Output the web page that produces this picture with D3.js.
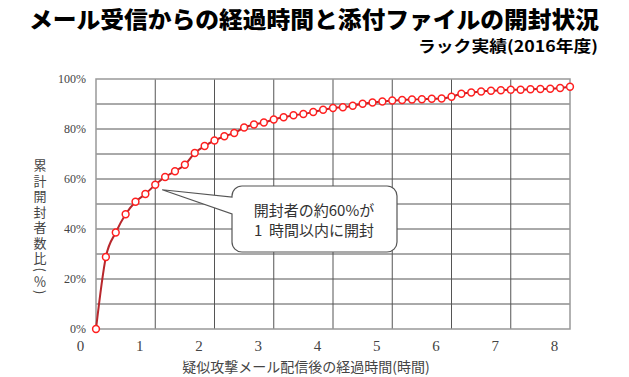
<!DOCTYPE html>
<html lang="ja">
<head>
<meta charset="UTF-8">
<title>メール受信からの経過時間と添付ファイルの開封状況</title>
<script src="https://cdnjs.cloudflare.com/ajax/libs/d3/7.8.5/d3.min.js"></script>
<style>
  body { margin: 0; background: #fff; }
  svg { display: block; }
</style>
</head>
<body>
<svg id="chart" width="629" height="377"></svg>
<script>
    // elapsed minutes after the mail was sent
    const minutes = [0, 10, 20, 30, 40, 50, 60, 70, 80, 90, 100, 110, 120,
        130, 140, 150, 160, 170, 180, 190, 200, 210, 220, 230, 240,
        250, 260, 270, 280, 290, 300, 310, 320, 330, 340, 350, 360,
        370, 380, 390, 400, 410, 420, 430, 440, 450, 460, 470, 480];
    // cumulative share of openers (%)
    const openedPct = [0, 28.8, 38.6, 45.9, 50.9, 54.0, 57.7, 60.8, 63.1, 65.7, 70.4, 73.2, 75.4,
        77.1, 78.4, 80.6, 81.8, 82.6, 83.8, 84.7, 85.5, 86.0, 86.8, 87.7, 88.4,
        88.7, 89.3, 90.1, 90.6, 91.0, 91.4, 91.6, 91.8, 91.9, 92.1, 92.2, 92.9,
        94.1, 94.6, 95.0, 95.3, 95.5, 95.7, 95.7, 95.9, 96.0, 96.1, 96.4, 96.9];

    const hourTicks = [0, 1, 2, 3, 4, 5, 6, 7, 8];
    const pctTicks = [0, 20, 40, 60, 80, 100];
    const pctGrid = [10, 20, 30, 40, 50, 60, 70, 80, 90];

    const title = "メール受信からの経過時間と添付ファイルの開封状況";
    const subtitle = "ラック実績(2016年度)";
    const xTitle = "疑似攻撃メール配信後の経過時間(時間)";
    const yTitle = "累計開封者数比(％)";
    const note = ["開封者の約60%が", "1  時間以内に開封"];

    const svg = d3.select("#chart");
    const jp = "'Noto Sans CJK JP', 'Noto Sans', sans-serif";
    const serif = "'Liberation Serif', 'DejaVu Serif', serif";

    const x = d3.scaleLinear().domain([0, 8]).range([96, 570]);
    const y = d3.scaleLinear().domain([0, 100]).range([329, 79]);

    // titles
    svg.append("text")
        .attr("x", 29).attr("y", 28)
        .attr("font-family", jp).attr("font-weight", 900)
        .attr("font-size", 22.5).attr("fill", "#000")
        .attr("textLength", 570).attr("lengthAdjust", "spacingAndGlyphs")
        .text(title);
    svg.append("text")
        .attr("x", 418).attr("y", 52)
        .attr("font-family", jp).attr("font-weight", 700)
        .attr("font-size", 15.5).attr("fill", "#000")
        .attr("textLength", 180).attr("lengthAdjust", "spacingAndGlyphs")
        .text(subtitle);

    // grid
    const grid = svg.append("g");
    grid.selectAll("line.h")
        .data(pctGrid)
        .enter().append("line")
        .attr("class", "h")
        .attr("x1", x(0)).attr("x2", x(8))
        .attr("y1", d => y(d)).attr("y2", d => y(d))
        .attr("stroke", "#555").attr("stroke-width", 1);
    grid.selectAll("line.v")
        .data(hourTicks.slice(1, -1))
        .enter().append("line")
        .attr("class", "v")
        .attr("x1", d => x(d)).attr("x2", d => x(d))
        .attr("y1", y(0)).attr("y2", y(100))
        .attr("stroke", "#555").attr("stroke-width", 1);
    grid.append("rect")
        .attr("x", x(0)).attr("y", y(100))
        .attr("width", x(8) - x(0)).attr("height", y(0) - y(100))
        .attr("fill", "none").attr("stroke", "#999").attr("stroke-width", 1.5);

    // y axis labels
    const yAxis = d3.axisLeft(y)
        .tickValues(pctTicks)
        .tickSize(0)
        .tickPadding(10)
        .tickFormat(d => d + "%");
    svg.append("g")
        .attr("transform", `translate(${x(0)},0)`)
        .call(yAxis)
        .call(g => g.select(".domain").remove())
        .selectAll("text")
        .attr("font-family", serif).attr("font-size", 12).attr("fill", "#444");

    // x axis labels (sit a little left of the grid lines in the original)
    const xAxis = d3.axisBottom(x)
        .tickValues(hourTicks)
        .tickSize(0)
        .tickPadding(11)
        .tickFormat(d3.format("d"));
    svg.append("g")
        .attr("transform", `translate(0,${y(0)})`)
        .call(xAxis)
        .call(g => g.select(".domain").remove())
        .selectAll("text")
        .attr("dx", -16)
        .attr("font-family", serif).attr("font-size", 15).attr("fill", "#444");

    svg.append("text")
        .attr("x", 306).attr("y", 372)
        .attr("text-anchor", "middle")
        .attr("font-family", jp).attr("font-size", 14).attr("fill", "#444")
        .text(xTitle);

    // vertical y title
    svg.append("text")
        .attr("x", 40).attr("y", 159)
        .style("writing-mode", "vertical-rl")
        .style("text-orientation", "mixed")
        .attr("font-family", jp).attr("font-size", 13).attr("fill", "#444")
        .attr("letter-spacing", 2.5)
        .text(yTitle);

    // series
    const pts = minutes.map((m, i) => [m / 60, openedPct[i]]);
    const line = d3.line()
        .x(d => x(d[0]))
        .y(d => y(d[1]))
        .curve(d3.curveMonotoneX);
    svg.append("path")
        .datum(pts)
        .attr("d", line)
        .attr("fill", "none")
        .attr("stroke", "#b8272c")
        .attr("stroke-width", 2);
    svg.append("g").selectAll("circle")
        .data(pts)
        .enter().append("circle")
        .attr("cx", d => x(d[0]))
        .attr("cy", d => y(d[1]))
        .attr("r", 3.4)
        .attr("fill", "#fff")
        .attr("stroke", "#ff1f1f")
        .attr("stroke-width", 1.5);

    // callout pointing at the 1 hour point
    const bx0 = 232, bx1 = 397, by0 = 186, by1 = 252, r = 10;
    const tip = [x(1) + 7, y(openedPct[6]) + 5];
    const callout = d3.path();
    callout.moveTo(bx0 + r, by0);
    callout.lineTo(bx1 - r, by0);
    callout.arcTo(bx1, by0, bx1, by0 + r, r);
    callout.lineTo(bx1, by1 - r);
    callout.arcTo(bx1, by1, bx1 - r, by1, r);
    callout.lineTo(bx0 + r, by1);
    callout.arcTo(bx0, by1, bx0, by1 - r, r);
    callout.lineTo(bx0, 214);
    callout.lineTo(tip[0], tip[1]);
    callout.lineTo(bx0, 197);
    callout.lineTo(bx0, by0 + r);
    callout.arcTo(bx0, by0, bx0 + r, by0, r);
    callout.closePath();
    svg.append("path")
        .attr("d", callout.toString())
        .attr("fill", "#fff")
        .attr("stroke", "#555")
        .attr("stroke-width", 1.2);
    svg.append("g").selectAll("text")
        .data(note)
        .enter().append("text")
        .attr("x", 314)
        .attr("y", (d, i) => 216 + i * 20)
        .attr("text-anchor", "middle")
        .attr("font-family", jp).attr("font-size", 15).attr("fill", "#333")
        .attr("xml:space", "preserve")
        .text(d => d);
</script>
</body>
</html>
